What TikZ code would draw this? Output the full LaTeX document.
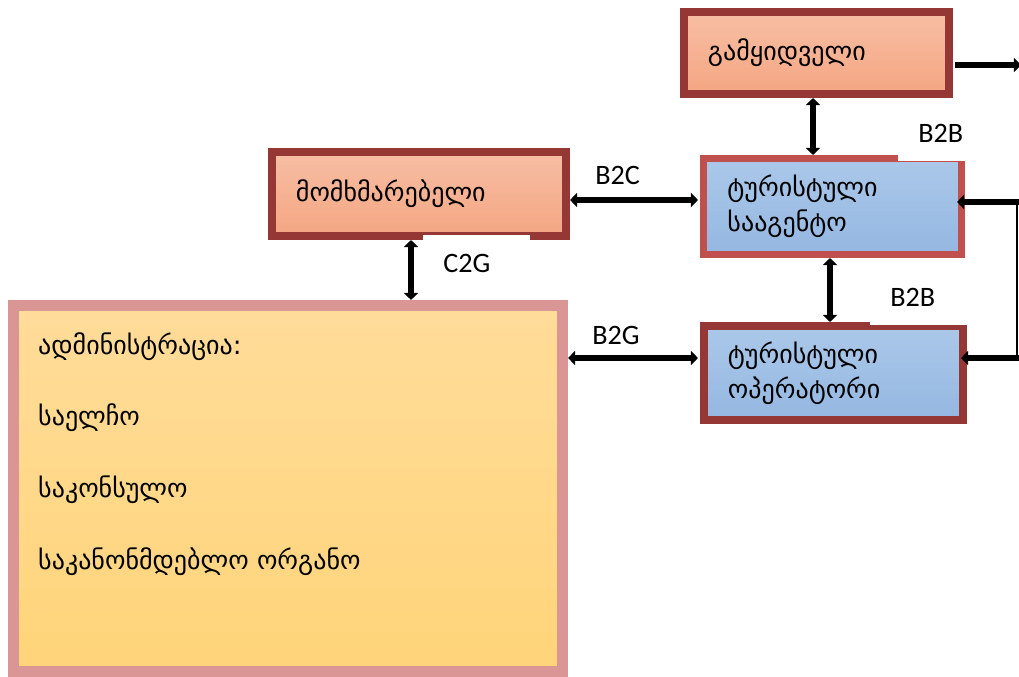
\documentclass[tikz,border=0pt]{standalone}
\usepackage{fontspec}
\setmainfont{Carlito}
\newfontfamily\geo{DejaVu Sans}
\usetikzlibrary{arrows.meta,calc,positioning}
\definecolor{boxred}{RGB}{149,55,53}
\definecolor{agentred}{RGB}{192,80,77}
\definecolor{adminpink}{RGB}{217,150,148}
\definecolor{salmontop}{RGB}{247,190,164}
\definecolor{salmonbot}{RGB}{244,166,130}
\definecolor{bluetop}{RGB}{171,200,233}
\definecolor{bluebot}{RGB}{148,183,225}
\definecolor{admintop}{RGB}{255,220,154}
\definecolor{adminbot}{RGB}{255,212,121}
\tikzset{
  box/.style={draw, line width=0.2cm, inner xsep=0.6cm, align=left, font=\geo\fontsize{18.5}{25}\selectfont},
  redbox/.style={box, draw=boxred, top color=salmontop, bottom color=salmonbot},
  bluebox/.style={box, top color=bluetop, bottom color=bluebot},
  tag/.style={fill=white, anchor=west, inner xsep=0.5cm, text width=1.675cm, minimum height=1.4cm, font=\fontsize{20}{24}\selectfont},
  tip/.tip={Triangle[width=10pt,length=5pt]},
  link/.style={line width=4.6pt, tip-tip},
  oneway/.style={line width=4.6pt, -tip}
}
\begin{document}
\begin{tikzpicture}[x=0.025cm, y=-0.025cm]
\useasboundingbox (0,0) rectangle (1019,677);
\node[redbox, minimum width=6.625cm, minimum height=2.05cm, text width=5.425cm] (seller) at (816.5,53) {გამყიდველი};
\node[bluebox, draw=agentred, line width=0.175cm, minimum width=6.45cm, minimum height=2.4cm, text width=5.25cm] (agent) at (832.5,206.5) {ტურისტული\\სააგენტო};
\node[bluebox, draw=boxred, minimum width=6.475cm, minimum height=2.35cm, text width=5.275cm] (operator) at (833.5,373) {ტურისტული\\ოპერატორი};
\node[redbox, minimum width=7.35cm, minimum height=2.1cm, text width=6.15cm] (consumer) at (419,194) {მომხმარებელი};
\node[draw=adminpink, line width=0.275cm, top color=admintop, bottom color=adminbot, minimum width=13.725cm, minimum height=9.15cm] (admin) at (288,488.5) {};
\node[align=left, inner sep=0, font=\geo\fontsize{18.5}{51}\selectfont, below right=0.8cm and 0.75cm of admin.north west] (admintext) {ადმინისტრაცია:\\საელჩო\\საკონსულო\\საკანონმდებლო ორგანო};
\node[tag] (b2c) at (575,175) {B2C};
\node[tag] (c2g) at (423,263) {C2G};
\node[tag] (b2g) at (572,335) {B2G};
\node[tag] (b2btop) at (898,133) {B2B};
\node[tag] (b2blow) at (870,297) {B2B};
\coordinate (exit) at (1021,65);
\coordinate (rtop) at (1019,202);
\coordinate (rbot) at (1019,358);
\draw[oneway] ($(seller.east)+(2,12)$) -- (exit);
\draw[link] ($(seller.south)+(-3.5,0)$) -- ($(agent.north)+(-19.5,0)$);
\draw[link] ($(consumer.east)+(0,6)$) -- ($(agent.west)+(-2,-6.5)$);
\draw[link] ($(consumer.south)+(-8,0)$) -- ($(admin.north)+(123,0)$);
\draw[link] ($(admin.east)+(0,-130.5)$) -- ($(operator.west)+(-2,-15)$);
\draw[link] ($(agent.south)+(-2.5,0)$) -- ($(operator.north)+(-3.5,0)$);
\draw[line width=1.2pt] ($(rtop)+(-2,0)$) -- ($(rbot)+(-2,0)$);
\draw[oneway] (rtop) -- ($(agent.east)+(-8,-4.5)$);
\draw[oneway] (rbot) -- ($(operator.east)+(-6,-15)$);
\end{tikzpicture}
\end{document}
